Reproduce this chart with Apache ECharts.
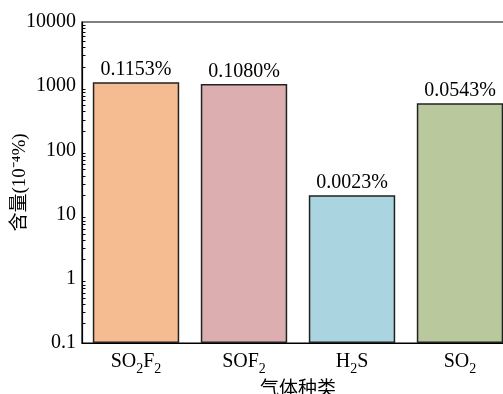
<!DOCTYPE html>
<html>
<head>
<meta charset="utf-8">
<script src="https://cdn.jsdelivr.net/npm/echarts@6/dist/echarts.min.js"></script>
<style>html,body{margin:0;padding:0;background:#fff}#c{width:503px;height:394px}</style>
</head>
<body>
<div id="c"></div>
<script>
const categories = ['SO2F2', 'SOF2', 'H2S', 'SO2'];
const categoryRich = ['{a|SO}{s|2}{a|F}{s|2}', '{a|SOF}{s|2}', '{a|H}{s|2}{a|S}', '{a|SO}{s|2}'];
const values = [1153, 1080, 20, 543];
const valueLabels = ['0.1153%', '0.1080%', '0.0023%', '0.0543%'];
const barColors = ['#F5BC91', '#DCAEAF', '#A9D4E0', '#B9C99D'];
const yTickLabels = ['0.1', '1', '10', '100', '1000', '10000'];
const yAxisName = '含量(10⁻⁴%)';
const xAxisName = '气体种类';
const axisFloor = 0.1;
const baseValues = categories.map(function () { return axisFloor; });

const minorTicks = [];
[0.1, 1, 10, 100, 1000].forEach(function (d) {
  for (let k = 2; k <= 9; k++) minorTicks.push(+(d * k).toPrecision(3));
});

const serif = '"Liberation Serif", "Times New Roman", serif';
const cjk = '"Noto Sans CJK SC", sans-serif';

const chart = echarts.init(document.getElementById('c'), null, {renderer: 'canvas'});
chart.setOption({
  animation: false,
  backgroundColor: '#fff',
  grid: {left: 82, top: 22, bottom: 51, right: -11, containLabel: false, outerBoundsMode: 'none',
         show: true, borderColor: '#000', borderWidth: 1.2, backgroundColor: 'transparent'},
  xAxis: {
    type: 'category',
    data: categories,
    name: xAxisName,
    nameLocation: 'middle',
    nameGap: 35,
    nameMoveOverlap: false,
    nameTextStyle: {fontFamily: cjk, fontSize: 19, color: '#000'},
    axisLine: {lineStyle: {color: '#000', width: 1.2}},
    axisTick: {inside: true, alignWithLabel: true, length: 6, lineStyle: {color: '#000'}},
    axisLabel: {
      margin: 9,
      interval: 0,
      formatter: function (v, i) { return categoryRich[i]; },
      rich: {
        a: {fontFamily: serif, fontSize: 20, color: '#000', lineHeight: 24, verticalAlign: 'top'},
        s: {fontFamily: serif, fontSize: 14, color: '#000', lineHeight: 12, verticalAlign: 'bottom'}
      }
    }
  },
  yAxis: [{
    type: 'log',
    logBase: 10,
    min: 0.1,
    max: 10000,
    name: yAxisName,
    nameLocation: 'middle',
    nameGap: 52,
    nameMoveOverlap: false,
    nameTextStyle: {fontFamily: serif + ',' + cjk, fontSize: 19, color: '#000'},
    axisLine: {show: true, lineStyle: {color: '#000', width: 1.2}},
    axisTick: {inside: true, length: 6, lineStyle: {color: '#000'}},
    splitLine: {show: false},
    axisLabel: {
      margin: 6,
      fontFamily: serif, fontSize: 20, color: '#000',
      formatter: function (v) {
        const idx = Math.round(Math.log10(v)) + 1;
        return yTickLabels[idx];
      }
    }
  }, {
    type: 'log',
    logBase: 10,
    min: 0.1,
    max: 10000,
    position: 'left',
    axisLine: {show: false},
    axisLabel: {show: false},
    splitLine: {show: false},
    axisTick: {show: true, inside: true, length: 3.5, customValues: minorTicks, lineStyle: {color: '#000'}}
  }],
  series: [{
    type: 'bar',
    stack: 'g',
    barWidth: '80%',
    silent: true,
    data: baseValues,
    itemStyle: {color: 'transparent', borderWidth: 0},
    label: {show: false}
  }, {
    type: 'bar',
    stack: 'g',
    barWidth: '80%',
    data: values.map(function (v, i) {
      return {value: v, itemStyle: {color: barColors[i]}};
    }),
    itemStyle: {borderColor: '#222', borderWidth: 1.5},
    label: {
      show: true,
      position: 'top',
      distance: 2,
      fontFamily: serif, fontSize: 20, color: '#000',
      formatter: function (p) { return valueLabels[p.dataIndex]; }
    }
  }]
});
</script>
</body>
</html>
